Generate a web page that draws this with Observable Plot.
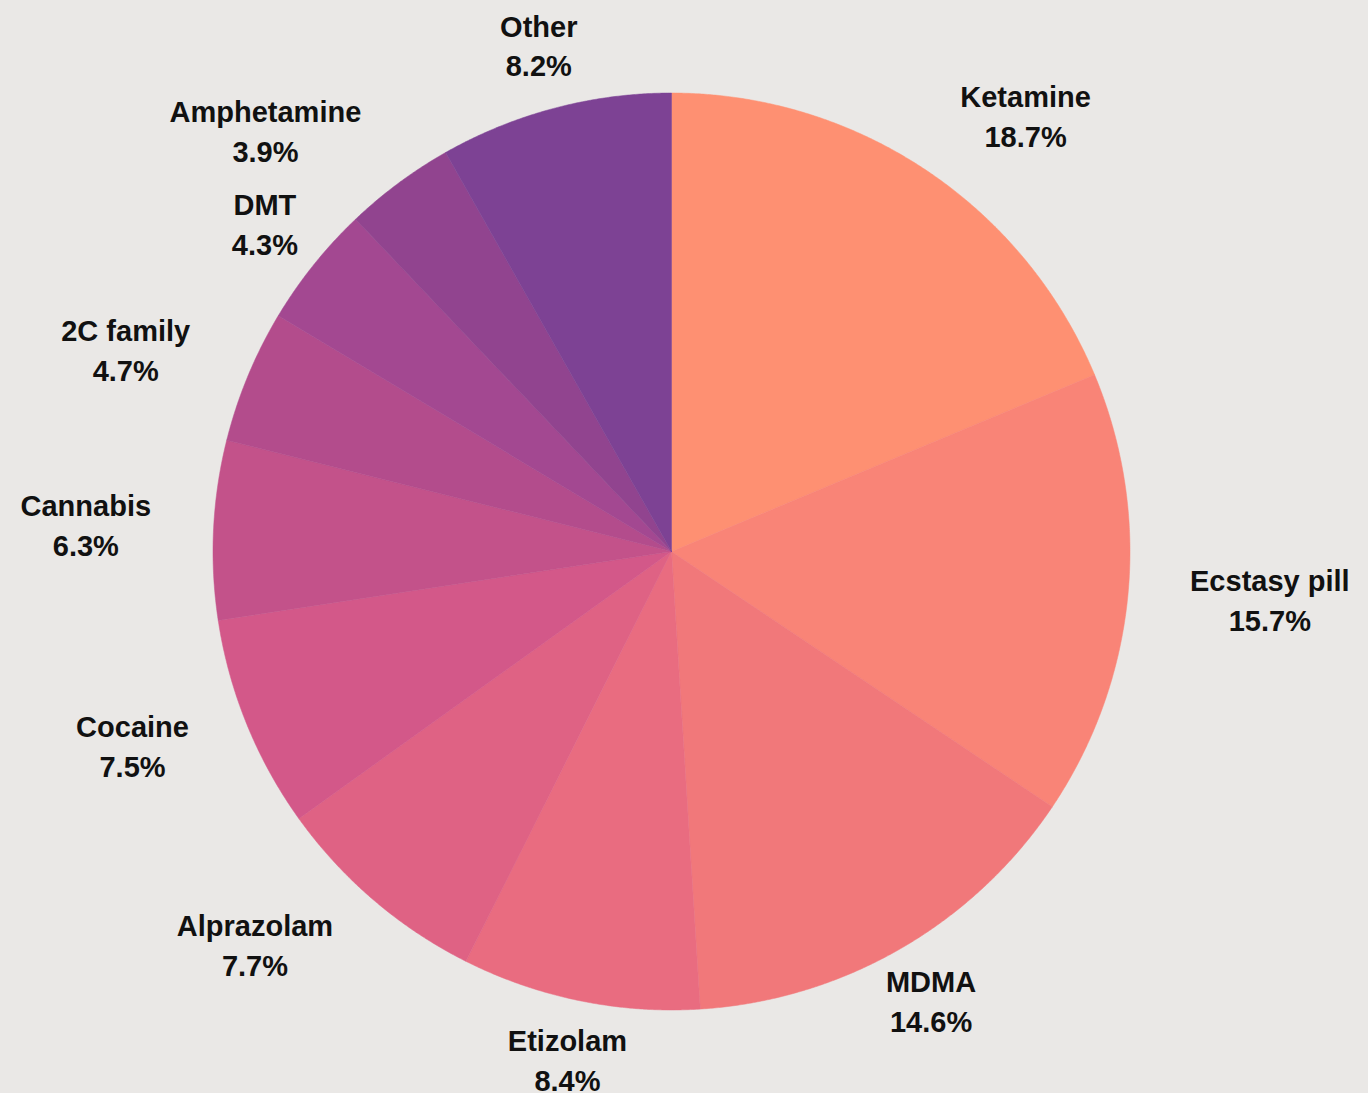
<!DOCTYPE html>
<html>
<head>
<meta charset="utf-8">
<script src="https://cdn.jsdelivr.net/npm/d3@7"></script>
<script src="https://cdn.jsdelivr.net/npm/@observablehq/plot@0.6"></script>
<style>
  html, body { margin: 0; padding: 0; background: #EAE8E6; overflow: hidden; }
  #chart svg { display: block; }
</style>
</head>
<body>
<div id="chart"></div>
<script>
// ---- data ----
const names = ["Ketamine", "Ecstasy pill", "MDMA", "Etizolam", "Alprazolam", "Cocaine",
               "Cannabis", "2C family", "DMT", "Amphetamine", "Other"];
const shares = [18.7, 15.7, 14.6, 8.4, 7.7, 7.5, 6.3, 4.7, 4.3, 3.9, 8.2];
const colors = ["#FE9072", "#F98477", "#F1787A", "#E96C80", "#DF6284", "#D35889",
                "#C3528A", "#B34C8C", "#A34891", "#91448F", "#7D4294"];

// ---- layout ----
const W = 1368, H = 1093;
const cx = 671, cy = 551, R = 458.5;      // pie centre and radius (px)
const labelR = 521;                        // label ring radius (px)
const fontSize = 29, lineGap = 40, fontFamily = "'Liberation Sans', Arial, sans-serif";

const total = d3.sum(shares);

// slice polygons (in units of R, centre at 0,0, y up), clockwise from 12 o'clock
const slicePts = [];
let acc = 0;
const mids = [];
shares.forEach((v, i) => {
  const a0 = acc / total * 2 * Math.PI;
  const a1 = (acc + v) / total * 2 * Math.PI;
  acc += v;
  mids.push((a0 + a1) / 2);
  const n = Math.max(2, Math.ceil((a1 - a0) / (Math.PI / 720)));
  slicePts.push({name: names[i], x: 0, y: 0});
  for (let k = 0; k <= n; k++) {
    const t = a0 + (a1 - a0) * k / n;
    slicePts.push({name: names[i], x: Math.sin(t), y: Math.cos(t)});
  }
  slicePts.push({name: names[i], x: 0, y: 0});
});

// label placement: centred on ring; if it would touch the pie, align outward
const ctx = document.createElement("canvas").getContext("2d");
ctx.font = `bold ${fontSize}px ${fontFamily}`;
const labels = names.map((name, i) => {
  const a = mids[i];
  const pct = shares[i].toFixed(1) + "%";
  const w = Math.max(ctx.measureText(name).width, ctx.measureText(pct).width);
  const hh = (lineGap + fontSize * 0.72) / 2;
  let px = labelR * Math.sin(a);
  const py = labelR * Math.cos(a);
  const dx = Math.max(Math.abs(px) - w / 2, 0), dy = Math.max(Math.abs(py) - hh, 0);
  if (Math.hypot(dx, dy) < R + 7) px += Math.sign(px) * w / 2;
  return {name, text: name + "\n" + pct, x: px / R, y: py / R};
});

const chart = Plot.plot({
  width: W,
  height: H,
  margin: 0,
  style: {background: "#EAE8E6"},
  x: {domain: [-cx / R, (W - cx) / R], axis: null},
  y: {domain: [-(H - cy) / R, cy / R], axis: null},
  color: {domain: names, range: colors},
  marks: [
    Plot.line(slicePts, {x: "x", y: "y", z: "name", fill: "name", stroke: "name",
                         strokeWidth: 0.5, curve: "linear"}),
    Plot.text(labels, {x: "x", y: "y", text: "text", fontSize, fontWeight: "bold",
                       lineHeight: lineGap / fontSize, fill: "#111", fontFamily, dy: -4})
  ]
});
document.getElementById("chart").appendChild(chart);
</script>
</body>
</html>
